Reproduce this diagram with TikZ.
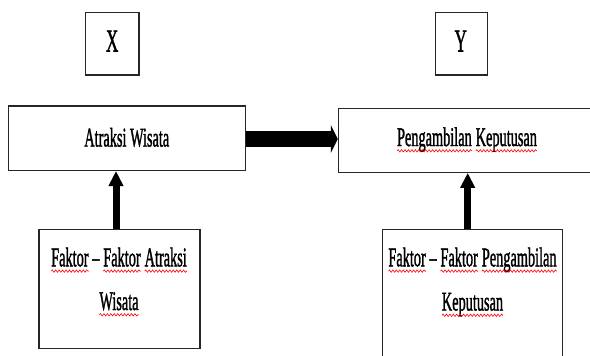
\documentclass[tikz,border=0pt]{standalone}
\usepackage{fontspec}
\setmainfont{Liberation Serif}[FakeBold=1.8]
\usetikzlibrary{arrows.meta,decorations.pathmorphing}
\newcommand\sqz[1]{\scalebox{0.53}[1]{#1}}
\newcommand\wv[1]{\tikz[baseline=(wvw.base)]{\node[inner sep=0pt,outer sep=0pt,draw=none,fill=none] (wvw) {#1};
  \draw[red,line width=0.8pt,decorate,decoration={snake,amplitude=1.2pt,segment length=6.5pt}]
   ([yshift=-4.8pt]wvw.base west) -- ([yshift=-4.8pt]wvw.base east);}}
\tikzset{
  boxx/.style={draw=black!85,line width=1.1pt,fill=white,inner sep=0pt},
  txt/.style={inner sep=0pt,anchor=base,font=\fontsize{27}{32}\selectfont},
  bigtxt/.style={inner sep=0pt,anchor=base,font=\fontsize{32}{36}\selectfont},
  harrow/.style={line width=16pt,-{Triangle[length=7pt,width=28pt]}},
  varrow/.style={line width=7pt,-{Triangle[length=15pt,width=14pt]}}
}
\begin{document}
\begin{tikzpicture}[x=1pt,y=-1pt]
\useasboundingbox (0,0) rectangle (590,356);
\clip (0,0) rectangle (590,356);
% boxes
\node[boxx,minimum width=53.5pt,minimum height=62.5pt] (xb) at (112.2,43.7) {};
\node[boxx,minimum width=52pt,minimum height=62.5pt] (yb) at (461.3,43.7) {};
\node[boxx,minimum width=237.4pt,minimum height=64.5pt] (atr) at (127,138.2) {};
\node[boxx,minimum width=271.7pt,minimum height=64pt] (pen) at (474.2,140.3) {};
\node[boxx,minimum width=161pt,minimum height=119pt] (lf) at (119.5,288.8) {};
\node[boxx,minimum width=180.4pt,minimum height=140.7pt] (rf) at (472.5,299.6) {};
% texts
\node[bigtxt] (xt) at (112.2,51.5) {\sqz{X}};
\node[bigtxt] (yt) at (460.7,51.5) {\sqz{Y}};
\node[txt] (atrt) at (126.8,146.5) {\sqz{Atraksi Wisata}};
\node[txt] (pent) at (467,146) {\sqz{\wv{Pengambilan} \wv{Keputusan}}};
\node[txt] (lf1) at (119,266.3) {\sqz{\wv{Faktor} – \wv{Faktor} \wv{Atraksi}}};
\node[txt] (lf2) at (119,310) {\sqz{\wv{Wisata}}};
\node[txt] (rf1) at (472.5,266.3) {\sqz{\wv{Faktor} – \wv{Faktor} \wv{Pengambilan}}};
\node[txt] (rf2) at (472.5,310.5) {\sqz{\wv{Keputusan}}};
% arrows
\draw[harrow] ([yshift=-0.8pt]atr.east) -- ([yshift=-0.8pt]atr.east -| pen.west);
\draw[varrow] ([xshift=-3.5pt]lf.north) -- ([xshift=-3.5pt]lf.north |- atr.south);
\draw[varrow] ([xshift=-4.8pt]rf.north) -- ([xshift=-4.8pt]rf.north |- pen.south);
\end{tikzpicture}
\end{document}
